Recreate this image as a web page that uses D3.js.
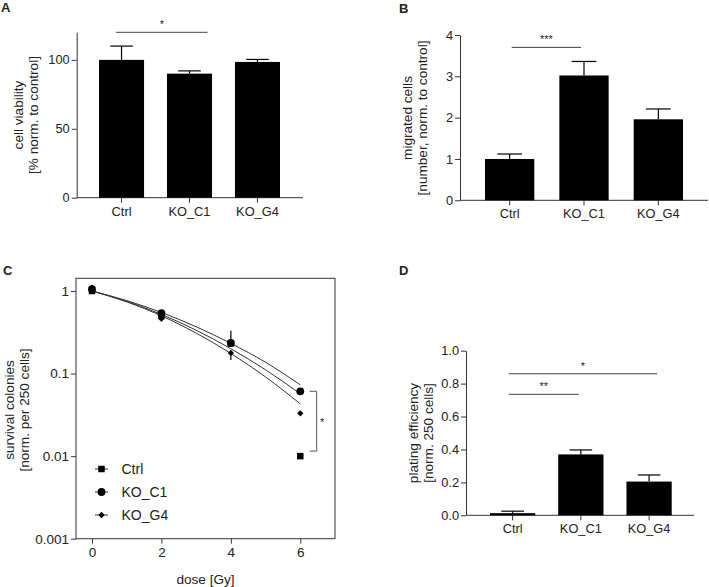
<!DOCTYPE html>
<html><head><meta charset="utf-8">
<script src="https://cdn.jsdelivr.net/npm/d3@7"></script>
<style>
body{margin:0;background:#fff}
svg{display:block}
text{font-family:"Liberation Sans",Arial,sans-serif;fill:#222}
</style>
</head><body><svg id="c" width="709" height="587"></svg>
<script>
// ---------- data ----------
const groups = ["Ctrl", "KO_C1", "KO_G4"];
const viability = [100, 90, 98.5];
const viabilityErr = [110, 92, 100.3];
const migrated = [1.0, 3.02, 1.96];
const migratedErr = [1.12, 3.36, 2.21];
const plating = [0.013, 0.37, 0.205];
const platingErr = [0.025, 0.397, 0.245];

const doses = [0, 2, 4, 6];
const survCtrl = [1.0, 0.50, 0.232, 0.010];
const survC1 = [1.05, 0.54, 0.235, 0.061];
const survG4 = [1.10, 0.46, 0.178, 0.033];
const survCtrlErrHi = [null, null, 0.33, null];
const survG4ErrLo = [null, null, 0.146, null];
const fitDoses = [0, 1, 2, 3, 4, 5, 6];
const fitCtrl = [1.0, 0.749, 0.52, 0.335, 0.20, 0.111, 0.057];
const fitC1 = [1.0, 0.765, 0.55, 0.369, 0.232, 0.137, 0.073];
const fitG4 = [1.0, 0.739, 0.50, 0.309, 0.175, 0.091, 0.043];

const yTicksA = [0, 50, 100];
const yTicksB = [0, 1, 2, 3, 4];
const yTicksD = [0, 0.2, 0.4, 0.6, 0.8, 1.0];
const yTicksC = [0.001, 0.01, 0.1, 1];
const yTickLabelsC = ["0.001", "0.01", "0.1", "1"];
const xTicksC = [0, 2, 4, 6];

// ---------- drawing ----------
const svg = d3.select("#c");
const AX = "#333";
const FS = 12.8;

function panelLabel(t, x, y) {
  svg.append("text").attr("x", x).attr("y", y).attr("font-size", 13)
    .attr("font-weight", "bold").attr("fill", "#111").text(t);
}
function yLabel(lines, x, y) {
  lines.forEach((l, i) => {
    svg.append("text").attr("transform", `translate(${x + i * 15},${y}) rotate(-90)`)
      .attr("text-anchor", "middle").attr("dy", "0.35em").attr("font-size", 13.6).text(l);
  });
}
function styleAxis(g) {
  g.selectAll("path,line").attr("stroke", AX).attr("stroke-width", 1);
  g.selectAll("text").attr("font-size", FS).attr("fill", "#222")
    .attr("font-family", '"Liberation Sans",Arial,sans-serif');
}

function barPanel(o) {
  const y = d3.scaleLinear().domain(o.domain).range([o.y0, o.y1]);
  const x = d3.scaleBand().domain(groups).range([o.bx0, o.bx1]).paddingInner(0.337).paddingOuter(0);
  const ya = svg.append("g").attr("transform", `translate(${o.ax},0)`)
    .call(d3.axisLeft(y).tickValues(o.ticks).tickSize(5).tickPadding(2).tickSizeOuter(0)
      .tickFormat(o.fmt || d3.format("")));
  styleAxis(ya);
  svg.append("line").attr("x1", o.ax).attr("x2", o.axEnd).attr("y1", o.y0).attr("y2", o.y0)
    .attr("stroke", AX);
  const xa = svg.append("g").attr("transform", `translate(0,${o.y0})`)
    .call(d3.axisBottom(x).tickSize(5).tickPadding(4).tickSizeOuter(0));
  xa.select(".domain").remove();
  styleAxis(xa);
  const bw = x.bandwidth();
  svg.append("g").selectAll("rect").data(groups).join("rect")
    .attr("x", d => x(d)).attr("width", bw)
    .attr("y", (d, i) => y(o.values[i])).attr("height", (d, i) => y(0) - y(o.values[i]))
    .attr("fill", "#000");
  const eg = svg.append("g").attr("stroke", "#000").attr("stroke-width", 1.2);
  groups.forEach((d, i) => {
    const cx = x(d) + bw / 2;
    eg.append("line").attr("x1", cx).attr("x2", cx).attr("y1", y(o.values[i])).attr("y2", y(o.errs[i]));
    eg.append("line").attr("x1", cx - bw * 0.25).attr("x2", cx + bw * 0.25)
      .attr("y1", y(o.errs[i])).attr("y2", y(o.errs[i]));
  });
  o.sig.forEach(s => {
    const xa0 = x(s[0]) + bw / 2 + s[3], xa1 = x(s[1]) + bw / 2 + s[4];
    svg.append("line").attr("x1", xa0).attr("x2", xa1).attr("y1", y(s[2])).attr("y2", y(s[2]))
      .attr("stroke", "#444");
    svg.append("text").attr("x", (xa0 + xa1) / 2).attr("y", y(s[2]) - 4)
      .attr("text-anchor", "middle").attr("font-size", 11).text(s[5]);
  });
}

// Panel A
panelLabel("A", 1, 12);
barPanel({domain: [0, 120], y0: 197.7, y1: 32.3, ax: 76.7, axEnd: 303, bx0: 99, bx1: 280,
  ticks: yTicksA, values: viability, errs: viabilityErr,
  sig: [["Ctrl", "KO_C1", 120, -5.5, 18, "*"]]});
yLabel(["cell viability", "[% norm. to control]"], 18, 115);

// Panel B
panelLabel("B", 399, 13);
barPanel({domain: [0, 4], y0: 200.3, y1: 35, ax: 460, axEnd: 708, bx0: 485, bx1: 683,
  ticks: yTicksB, values: migrated, errs: migratedErr,
  sig: [["Ctrl", "KO_C1", 3.7, 2, -3, "***"]]});
yLabel(["migrated cells", "[number, norm. to control]"], 407, 118);

// Panel D
panelLabel("D", 399, 275);
barPanel({domain: [0, 1], y0: 515.3, y1: 350.7, ax: 466, axEnd: 694, bx0: 490, bx1: 671.7,
  ticks: yTicksD, values: plating, errs: platingErr, fmt: d3.format(".1f"),
  sig: [["Ctrl", "KO_C1", 0.735, -4, -2, "**"], ["Ctrl", "KO_G4", 0.86, -4, 8, "*"]]});
yLabel(["plating efficiency", "[norm. 250 cells]"], 413, 433);

// Panel C
panelLabel("C", 3, 275);
const cx = d3.scaleLinear().domain([-0.46, 7.0]).range([76, 335]);
const cy = d3.scaleLog().domain([0.001, 1.425]).range([538.7, 278.3]);
svg.append("rect").attr("x", 76).attr("y", 278.3).attr("width", 259).attr("height", 260.4)
  .attr("fill", "none").attr("stroke", AX);
const cya = svg.append("g").attr("transform", "translate(76,0)")
  .call(d3.axisLeft(cy).tickValues(yTicksC).tickSize(5).tickPadding(2)
    .tickFormat((d, i) => yTickLabelsC[i]));
cya.select(".domain").remove();
styleAxis(cya);
cya.selectAll("text").attr("font-size", 13.5);
const cxa = svg.append("g").attr("transform", "translate(0,538.7)")
  .call(d3.axisBottom(cx).tickValues(xTicksC).tickSize(5).tickPadding(4));
cxa.select(".domain").remove();
styleAxis(cxa);
cxa.selectAll("text").attr("font-size", 13.5);
svg.append("text").attr("x", 205.5).attr("y", 584).attr("text-anchor", "middle")
  .attr("font-size", 13.6).text("dose [Gy]");
yLabel(["survival colonies", "[norm. per 250 cells]"], 9.5, 410);

const line = d3.line().x(d => cx(d[0])).y(d => cy(d[1])).curve(d3.curveMonotoneX);
[fitC1, fitCtrl, fitG4].forEach(f => {
  svg.append("path").attr("d", line(fitDoses.map((d, i) => [d, f[i]])))
    .attr("fill", "none").attr("stroke", "#333").attr("stroke-width", 1);
});
const ceg = svg.append("g").attr("stroke", "#000").attr("stroke-width", 1.2);
doses.forEach((d, i) => {
  if (survCtrlErrHi[i] != null)
    ceg.append("line").attr("x1", cx(d)).attr("x2", cx(d)).attr("y1", cy(survCtrl[i])).attr("y2", cy(survCtrlErrHi[i]));
  if (survG4ErrLo[i] != null)
    ceg.append("line").attr("x1", cx(d)).attr("x2", cx(d)).attr("y1", cy(survG4[i])).attr("y2", cy(survG4ErrLo[i]));
});
const sym = {
  sq: {d: d3.symbol().type(d3.symbolSquare).size(42)(), r: 0},
  ci: {d: d3.symbol().type(d3.symbolCircle).size(48)(), r: 0},
  di: {d: d3.symbol().type(d3.symbolSquare).size(20)(), r: 45}
};
function markers(vals, s) {
  svg.append("g").selectAll("path").data(doses).join("path")
    .attr("transform", (d, i) => `translate(${cx(d)},${cy(vals[i])}) rotate(${s.r})`)
    .attr("d", s.d).attr("fill", "#000");
}
markers(survG4, sym.di);
markers(survCtrl, sym.sq);
markers(survC1, sym.ci);

const bx = 316.7;
svg.append("path").attr("d",
  `M${bx - 7},${cy(0.061)}H${bx}V${cy(0.0115)}H${bx - 7}`)
  .attr("fill", "none").attr("stroke", "#555");
svg.append("text").attr("x", bx + 5.5).attr("y", (cy(0.061) + cy(0.0115)) / 2 + 5)
  .attr("text-anchor", "middle").attr("font-size", 11).text("*");

const legend = [["Ctrl", sym.sq], ["KO_C1", sym.ci], ["KO_G4", sym.di]];
const lg = svg.append("g");
legend.forEach((l, i) => {
  const yy = 469 + i * 23;
  lg.append("line").attr("x1", 95).attr("x2", 108).attr("y1", yy).attr("y2", yy).attr("stroke", "#333");
  lg.append("path").attr("transform", `translate(101.5,${yy}) rotate(${l[1].r})`).attr("d", l[1].d).attr("fill", "#000");
  lg.append("text").attr("x", 121.5).attr("y", yy).attr("dy", "0.36em").attr("font-size", 14).text(l[0]);
});
</script>
</body></html>
